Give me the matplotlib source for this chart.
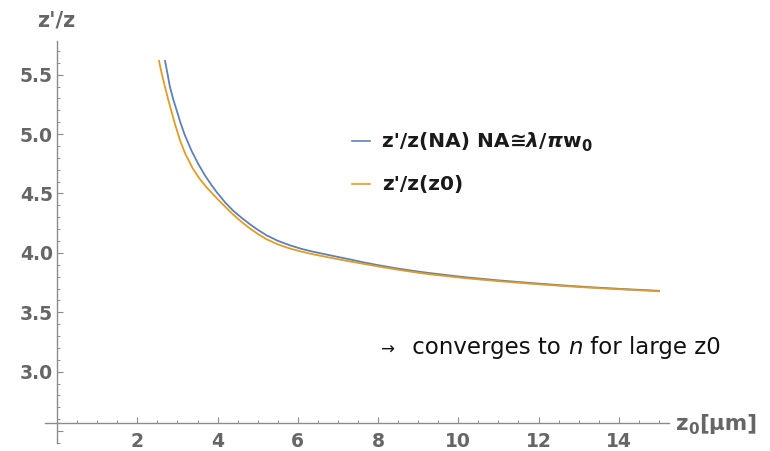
import matplotlib
matplotlib.use("Agg")
import matplotlib.pyplot as plt
from matplotlib.lines import Line2D
from matplotlib.ticker import FixedLocator

# ---- data ----
z0_na = [2.69, 2.75, 2.81, 2.90, 2.98, 3.08, 3.185, 3.35, 3.516, 3.68, 3.85, 3.98, 4.20,
         4.39, 4.60, 4.81, 5.00, 5.22, 5.50, 5.80, 6.10, 6.38, 6.80, 7.00, 7.30, 7.63,
         8.00, 8.46, 9.00, 9.29, 10.12, 10.96, 11.79, 12.62, 13.45, 14.28, 15.0]
ratio_na = [5.616, 5.510, 5.400, 5.285, 5.200, 5.090, 4.990, 4.860, 4.750, 4.655, 4.570,
            4.510, 4.420, 4.355, 4.295, 4.240, 4.195, 4.148, 4.102, 4.064, 4.033, 4.010,
            3.980, 3.966, 3.945, 3.921, 3.897, 3.870, 3.843, 3.830, 3.797, 3.770, 3.747,
            3.726, 3.708, 3.693, 3.681]

z0_z0 = [2.54, 2.60, 2.69, 2.77, 2.85, 2.95, 3.06, 3.20, 3.39, 3.56, 3.73, 3.98, 4.20,
         4.39, 4.60, 4.81, 5.00, 5.22, 5.50, 5.80, 6.10, 6.38, 6.80, 7.00, 7.30, 7.63,
         8.00, 8.46, 9.00, 9.29, 10.12, 10.96, 11.79, 12.62, 13.45, 14.28, 15.0]
ratio_z0 = [5.616, 5.520, 5.395, 5.290, 5.190, 5.070, 4.950, 4.830, 4.705, 4.620, 4.550,
            4.460, 4.385, 4.322, 4.260, 4.205, 4.160, 4.115, 4.072, 4.037, 4.010, 3.988,
            3.960, 3.947, 3.928, 3.908, 3.886, 3.860, 3.833, 3.820, 3.789, 3.763, 3.741,
            3.721, 3.704, 3.689, 3.677]

x_major = [2, 4, 6, 8, 10, 12, 14]
y_major = [2.5, 3.0, 3.5, 4.0, 4.5, 5.0, 5.5]
y_labels = ['', '3.0', '3.5', '4.0', '4.5', '5.0', '5.5']

series_colors = ['#5E81B5', '#E19C24']

W, H = 770, 451
fig = plt.figure(figsize=(W / 100, H / 100), dpi=100)

def fx(px):
    return px / W

def fy(py):
    return 1 - py / H

left, right, top, bottom = 44.7, 669.3, 40.7, 443.0
ax = fig.add_axes([fx(left), fy(bottom), fx(right) - fx(left), fy(top) - fy(bottom)])
ax.set_xlim(-0.31, 15.26)
ax.set_ylim(2.40, 5.786)

ax.plot(z0_na, ratio_na, color=series_colors[0], lw=1.3, clip_on=False)
ax.plot(z0_z0, ratio_z0, color=series_colors[1], lw=1.3, clip_on=False)

axis_color = '#8c8c8c'
for s in ['top', 'right']:
    ax.spines[s].set_visible(False)
ax.spines['left'].set_position(('data', 0))
ax.spines['bottom'].set_position(('data', 2.566))
for s in ['left', 'bottom']:
    ax.spines[s].set_color(axis_color)
    ax.spines[s].set_linewidth(1.0)

ax.xaxis.set_major_locator(FixedLocator(x_major))
ax.xaxis.set_minor_locator(FixedLocator([v * 0.5 for v in range(1, 31) if v % 4 != 0]))
ax.yaxis.set_major_locator(FixedLocator(y_major))
ax.yaxis.set_minor_locator(FixedLocator([round(2.4 + 0.1 * i, 2) for i in range(35)
                                         if round((2.4 + 0.1 * i) * 10) % 5 != 0]))
ax.set_xticklabels([str(v) for v in x_major])
ax.set_yticklabels(y_labels)

label_color = '#666666'
ax.tick_params(axis='both', which='major', direction='in', length=4.5, width=0.8,
               color=axis_color, labelcolor=label_color, labelsize=13.5)
ax.tick_params(axis='both', which='minor', direction='in', length=2.5, width=0.7,
               color=axis_color)
for lab in ax.get_xticklabels() + ax.get_yticklabels():
    lab.set_fontfamily('DejaVu Sans')
    lab.set_fontweight('bold')
ax.tick_params(axis='x', which='major', pad=6.5)
ax.tick_params(axis='y', which='major', pad=3)


def chain(x_px, base_px, pieces):
    """Lay out text pieces one after another on a common baseline (figure pixels)."""
    last = None
    for txt, kw, dy in pieces:
        if last is None:
            last = fig.text(fx(x_px), fy(base_px - dy), txt, ha='left', va='baseline', **kw)
        else:
            last = ax.annotate(txt, xy=(1, fy(base_px)), xycoords=(last, 'figure fraction'),
                               xytext=(0, dy), textcoords='offset pixels',
                               ha='left', va='baseline', annotation_clip=False, **kw)
    return last


bold_gray = dict(fontsize=15.5, fontweight='bold', color=label_color, family='DejaVu Sans')
sub_gray = dict(fontsize=11, fontweight='bold', color=label_color, family='DejaVu Sans')

# axis labels
fig.text(fx(56.5), fy(21), "z'/z", ha='center', va='center', fontsize=15,
         fontweight='bold', color=label_color, family='DejaVu Sans')
chain(676, 430, [("z", bold_gray, 0), ("0", sub_gray, -4), ("[\u03bcm]", bold_gray, 0)])

# legend
leg_b = dict(fontsize=14.5, fontweight='bold', color='#1a1a1a', family='DejaVu Sans')
leg_bi = dict(fontsize=14.5, fontweight='bold', style='italic', color='#1a1a1a',
              family='DejaVu Sans')
leg_sub = dict(fontsize=10.5, fontweight='bold', color='#1a1a1a', family='DejaVu Sans')
legend_pieces = [
    [("z'/z(NA) NA", leg_b, 0), ("\u2245", leg_b, 0), ("\u03bb", leg_bi, 0), ("/", leg_b, 0),
     ("\u03c0", leg_bi, 0), ("w", leg_b, 0), ("0", leg_sub, -4)],
    [("z'/z(z0)", leg_b, 0)],
]
for pieces, col, yy in zip(legend_pieces, series_colors, [141, 184]):
    fig.add_artist(Line2D([fx(352), fx(370)], [fy(yy), fy(yy)], color=col, lw=1.2,
                          transform=fig.transFigure))
    chain(382, yy + 6, pieces)

# annotation
note_kw = dict(fontsize=16.5, color='#111111', family='DejaVu Sans')
note_it = dict(fontsize=16.5, color='#111111', family='DejaVu Sans', style='italic')
arrow_kw = dict(fontsize=12, color='#111111', family='DejaVu Sans')
chain(381, 354, [("\u2192  ", arrow_kw, 0), (" converges to ", note_kw, 0), ("n", note_it, 0),
                 (" for large z0", note_kw, 0)])

fig.savefig('out.png', dpi=100)
